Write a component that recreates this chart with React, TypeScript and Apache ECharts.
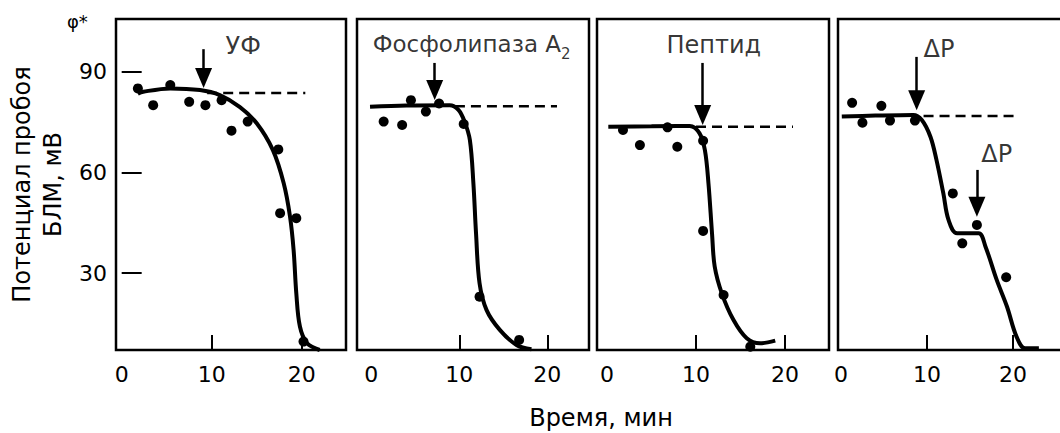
import React, { useEffect, useRef } from "react";
import * as echarts from "echarts";

// ---- data ----
const xTickLabels = [0, 10, 20];
const xTickMarks = [10, 20];
const yTickLabels = [30, 60, 90];
const yRange = [7.1, 105.8];

// per-panel x range [min, max]
const panelXRange = [
  [-0.63, 24.92],
  [-1.63, 24.74],
  [-1.12, 24.94],
  [-0.34, 26.5],
];

// Panel 1 — УФ
const uvDots = [[1.8, 85.1], [3.5, 80.1], [5.4, 86.1], [7.5, 81.1], [9.3, 80.1], [11.1, 81.6], [12.2, 72.5], [14, 75.2], [17.4, 66.9], [17.6, 47.9], [19.4, 46.4], [20.2, 9.6]];
const uvCurve = [[1.8, 83.5], [2.4, 84.1], [5.4, 85.1], [8.7, 84.6], [10.9, 83.1], [13.1, 79.6], [15, 74.7], [16.8, 66.7], [18, 56.8], [18.7, 46.9], [19.1, 36.9], [19.4, 24], [19.8, 14.1], [20.6, 9.1], [22, 7.1]];
const uvPlateau = 83.7;
const uvDashX = [9.5, 20.4];

// Panel 2 — Фосфолипаза A2
const plaDots = [[1.4, 75.2], [3.5, 74.2], [4.5, 81.6], [6.2, 78.2], [7.7, 80.6], [10.5, 74.5], [12.3, 23], [16.8, 10.1]];
const plaCurve = [[-0.15, 79.6], [4, 80], [8.9, 80.1], [9.9, 78.7], [10.6, 75.2], [11.2, 69.7], [11.6, 56.8], [11.9, 41.9], [12.3, 27], [13.1, 19], [14.6, 13.1], [16.5, 8.6], [18.2, 7.3]];
const plaPlateau = 79.8;
const plaDashX = [9.5, 21.1];

// Panel 3 — Пептид
const pepDots = [[1.8, 72.7], [3.7, 68.2], [6.8, 73.5], [7.9, 67.7], [10.8, 69.5], [10.8, 42.6], [13.1, 23.5], [16.1, 8.1]];
const pepCurve = [[0.15, 73.7], [5, 73.8], [9.3, 73.9], [10.4, 71.7], [11, 66.7], [11.4, 56.8], [11.8, 41.9], [12.1, 32], [12.9, 24], [14.2, 16.1], [15.7, 10.6], [17.2, 9.1], [18.9, 9.9]];
const pepPlateau = 73.7;
const pepDashX = [10, 20.9];

// Panel 4 — ΔP
const dpDots = [[1.3, 80.8], [2.5, 74.9], [4.7, 79.9], [5.7, 75.5], [8.6, 75.5], [13, 53.8], [14.1, 38.9], [15.8, 44.4], [19.2, 28.8]];
const dpCurve = [[0.1, 76.7], [4, 77], [8.4, 77.2], [9.4, 75.7], [10.4, 70.7], [11.1, 63.8], [11.9, 53.8], [12.5, 45.9], [13.5, 41.9], [16, 41.9], [16.8, 37.9], [18.1, 28], [19.3, 20], [20.4, 11.1], [21.4, 7.6], [23, 7.6]];
const dpPlateau = 76.9;
const dpDashX = [9.6, 20.4];

// arrows: [x, yStart, yEnd]
const uvArrows = [[9.1, 96.8, 88.2]];
const plaArrows = [[7.2, 92.7, 84.6]];
const pepArrows = [[10.75, 92.7, 77.2]];
const dpArrows = [[8.8, 94.5, 81.6], [15.8, 60.8, 49.8]];

// annotation labels: [x, y, text]
const uvLabels = [[13.5, 97.7, "УФ"]];
const plaLabels = [[11.4, 98.0, "Фосфолипаза A"]];
const pepLabels = [[12.0, 98.0, "Пептид"]];
const dpLabels = [[11.4, 96.8, "ΔP"], [18.1, 65.5, "ΔP"]];

const xAxisTitle = "Время, мин";
const yAxisTitle = "Потенциал пробоя\nБЛМ, мВ";
const yMarker = "φ*";

const FONT = "DejaVu Sans";

const panels = [
  { dots: uvDots, curve: uvCurve, plateau: uvPlateau, dashX: uvDashX, arrows: uvArrows, labels: uvLabels },
  { dots: plaDots, curve: plaCurve, plateau: plaPlateau, dashX: plaDashX, arrows: plaArrows, labels: plaLabels },
  { dots: pepDots, curve: pepCurve, plateau: pepPlateau, dashX: pepDashX, arrows: pepArrows, labels: pepLabels },
  { dots: dpDots, curve: dpCurve, plateau: dpPlateau, dashX: dpDashX, arrows: dpArrows, labels: dpLabels },
];

// layout (pixels)
const gridBoxes = [
  { left: 116, width: 230 },
  { left: 357, width: 232 },
  { left: 597, width: 232 },
  { left: 838, width: 231 },
];

export default function App() {
  const ref = useRef<HTMLDivElement>(null);
  useEffect(() => {
    if (!ref.current) return;
    const chart = echarts.init(ref.current, undefined, { renderer: "svg" });

    const grid = gridBoxes.map((g) => ({
      left: g.left,
      width: g.width,
      top: 19,
      height: 331,
      show: true,
      borderColor: "#000",
      borderWidth: 2.5,
      backgroundColor: "transparent",
      containLabel: false,
    }));

    const xAxis = panels.map((_, i) => ({
      type: "value",
      gridIndex: i,
      min: panelXRange[i][0],
      max: panelXRange[i][1],
      axisLine: { show: false },
      splitLine: { show: false },
      axisTick: {
        show: true,
        inside: true,
        length: 15,
        customValues: xTickMarks,
        lineStyle: { color: "#000", width: 2 },
      },
      axisLabel: {
        show: true,
        customValues: xTickLabels,
        margin: 13,
        color: "#000",
        fontSize: 22,
        fontFamily: FONT,
      },
    }));

    const yAxis = panels.map((_, i) => ({
      type: "value",
      gridIndex: i,
      min: yRange[0],
      max: yRange[1],
      axisLine: { show: false },
      splitLine: { show: false },
      axisTick: {
        show: i === 0,
        inside: true,
        length: 20,
        customValues: yTickLabels,
        lineStyle: { color: "#000", width: 2 },
      },
      axisLabel: {
        show: i === 0,
        customValues: yTickLabels,
        margin: 9,
        color: "#000",
        fontSize: 22,
        fontFamily: FONT,
      },
      name: i === 0 ? yAxisTitle : "",
      nameLocation: "middle",
      nameGap: 48,
      nameTextStyle: { color: "#000", fontSize: 24, lineHeight: 31, fontFamily: FONT },
    }));

    const series: any[] = [];
    panels.forEach((p, i) => {
      series.push({
        type: "line",
        xAxisIndex: i,
        yAxisIndex: i,
        data: p.dashX.map((x) => [x, p.plateau]),
        symbol: "none",
        lineStyle: { color: "#000", width: 2.5, type: [10, 6] },
        z: 2,
      });
      series.push({
        type: "line",
        xAxisIndex: i,
        yAxisIndex: i,
        data: p.curve,
        symbol: "none",
        smooth: 0.35,
        lineStyle: { color: "#000", width: 4 },
        z: 3,
        markLine: {
          silent: true,
          symbol: ["none", "triangle"],
          symbolSize: [17, 20],
          label: { show: false },
          lineStyle: { color: "#000", width: 2.5, type: "solid", opacity: 1 },
          itemStyle: { color: "#000" },
          data: p.arrows.map((a) => [{ coord: [a[0], a[1]] }, { coord: [a[0], a[2]] }]),
        },
      });
      series.push({
        type: "scatter",
        xAxisIndex: i,
        yAxisIndex: i,
        data: p.dots,
        symbol: "circle",
        symbolSize: 10,
        itemStyle: { color: "#000", opacity: 1 },
        z: 4,
      });
      series.push({
        type: "scatter",
        xAxisIndex: i,
        yAxisIndex: i,
        symbolSize: 0,
        silent: true,
        z: 5,
        data: p.labels.map((l) => ({
          value: [l[0], l[1]],
          name: l[2],
          label:
            i === 1
              ? {
                  formatter: "{a|" + l[2] + "}{s|2}",
                  rich: {
                    a: { fontSize: 23, lineHeight: 26, verticalAlign: "top", fontFamily: FONT, color: "#000" },
                    s: { fontSize: 15, lineHeight: 15, verticalAlign: "bottom", fontFamily: FONT, color: "#000", padding: [0, 0, -3, 0] },
                  },
                }
              : undefined,
        })),
        label: {
          show: true,
          position: "inside",
          formatter: "{b}",
          color: "#000",
          fontSize: 24,
          fontFamily: FONT,
        },
      });
    });

    chart.setOption({
      animation: false,
      backgroundColor: "#fff",
      grid,
      xAxis,
      yAxis,
      series,
      graphic: [
        {
          type: "text",
          x: 601,
          y: 418,
          style: { text: xAxisTitle, fontSize: 24, fontFamily: FONT, fill: "#000", align: "center", verticalAlign: "middle" },
        },
        {
          type: "text",
          x: 67,
          y: 21,
          style: { text: yMarker, fontSize: 18, fontFamily: FONT, fill: "#000", align: "left", verticalAlign: "middle" },
        },
      ],
    } as any);

    return () => chart.dispose();
  }, []);

  return (
    <div
      ref={ref}
      style={{ position: "fixed", left: 0, top: 0, width: 1080, height: 433, background: "#fff" }}
    />
  );
}
